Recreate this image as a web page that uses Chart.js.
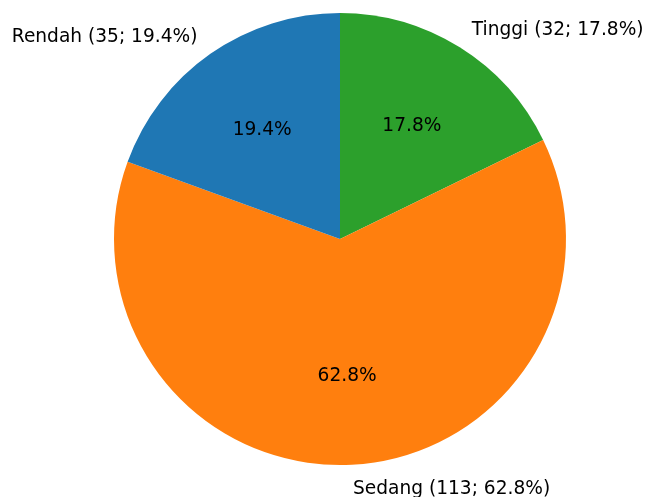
<!DOCTYPE html>
<html lang="id">
<head>
<meta charset="UTF-8">
<title>Pie</title>
<script src="https://cdn.jsdelivr.net/npm/chart.js"></script>
<style>
  body { margin: 0; background: #fff; }
  canvas { display: block; }
</style>
</head>
<body>
<canvas id="pie" width="646" height="497"></canvas>
<script>
// order clockwise from top (matplotlib draws counterclockwise)
const categories = ["Tinggi", "Sedang", "Rendah"];
const counts = [32, 113, 35];
const colors = ["#2ca02c", "#ff7f0e", "#1f77b4"];

const total = counts.reduce((a, b) => a + b, 0);
const font = '18.6px "DejaVu Sans"';

const pieLabels = {
  id: "pieLabels",
  afterDraw(chart) {
    const ctx = chart.ctx;
    const arcs = chart.getDatasetMeta(0).data;
    ctx.save();
    ctx.font = font;
    ctx.fillStyle = "#000";
    ctx.textBaseline = "middle";
    arcs.forEach((arc, i) => {
      const mid = (arc.startAngle + arc.endAngle) / 2;
      const r = arc.outerRadius;
      const pct = (counts[i] / total * 100).toFixed(1) + "%";
      // outer label
      const lx = arc.x + Math.cos(mid) * r * 1.1;
      const ly = arc.y + Math.sin(mid) * r * 1.1 + 2;
      ctx.textAlign = Math.cos(mid) >= 0 ? "left" : "right";
      ctx.fillText(`${categories[i]} (${counts[i]}; ${pct})`, lx, ly);
      // inner percent
      ctx.textAlign = "center";
      ctx.fillText(pct, arc.x + Math.cos(mid) * r * 0.6, arc.y + Math.sin(mid) * r * 0.6 + 2);
    });
    ctx.restore();
  }
};

new Chart(document.getElementById("pie"), {
  type: "pie",
  data: {
    labels: categories,
    datasets: [{
      data: counts,
      backgroundColor: colors,
      borderWidth: 0
    }]
  },
  options: {
    responsive: false,
    animation: false,
    layout: { padding: { top: 13, bottom: 32, left: 114, right: 80 } },
    plugins: {
      legend: { display: false },
      tooltip: { enabled: false }
    }
  },
  plugins: [pieLabels]
});
</script>
</body>
</html>
